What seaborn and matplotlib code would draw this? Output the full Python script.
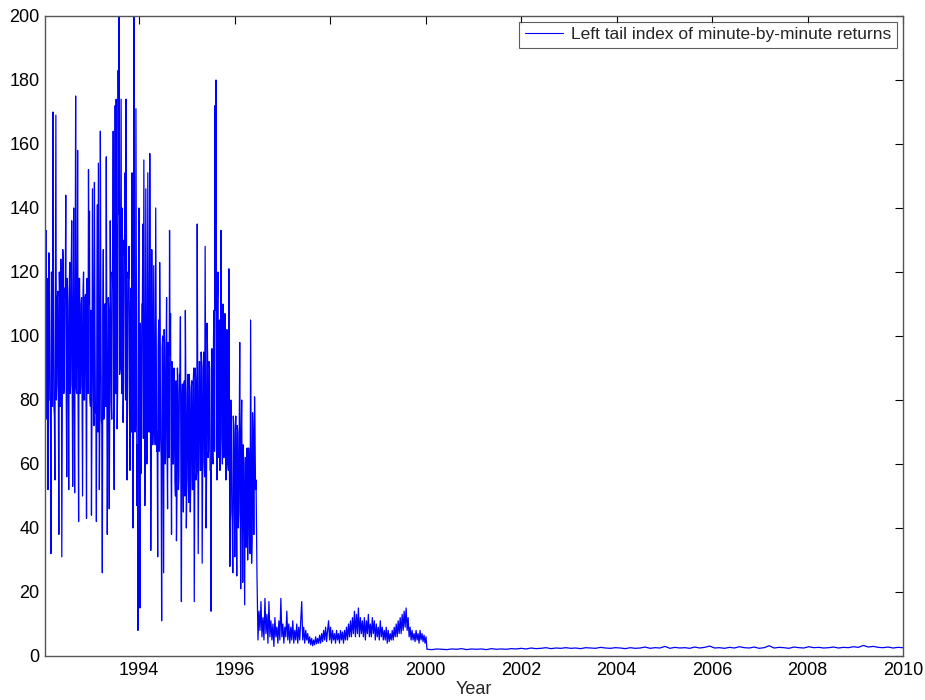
import numpy as np
import pandas as pd
import matplotlib
matplotlib.use("Agg")
import matplotlib.pyplot as plt
import seaborn as sns

# ---- data ----
# segment 1: volatile period, ~1992.03 .. 1996.45 -- spike / outer readings
early_start, early_end = 1992.03, 1996.45
early_vals = [
    100, 133, 74, 52, 126, 80, 32, 118, 170, 78,
    55, 169, 85, 114, 38, 112, 124, 31, 127, 82,
    115, 144, 56, 110, 52, 123, 85, 136, 53, 140,
    51, 175, 82, 158, 42, 118, 84, 112, 50, 120,
    80, 113, 43, 110, 152, 139, 78, 44, 146, 80,
    148, 76, 42, 141, 154, 52, 164, 74, 26, 127,
    78, 110, 156, 38, 112, 46, 136, 80, 120, 164,
    52, 172, 174, 71, 183, 205, 90, 174, 140, 73,
    130, 151, 174, 55, 120, 128, 58, 115, 151, 40,
    210, 70, 171, 47, 8, 140, 15, 57, 110, 135,
    155, 47, 146, 60, 151, 70, 157, 33, 127, 66,
    122, 72, 140, 64, 31, 105, 123, 68, 11, 100,
    26, 98, 62, 112, 46, 90, 133, 107, 38, 88,
    60, 85, 50, 36, 90, 52, 88, 106, 17, 85,
    45, 86, 108, 40, 82, 55, 88, 45, 84, 52,
    86, 17, 90, 55, 135, 32, 92, 58, 95, 29,
    90, 60, 128, 40, 104, 62, 92, 58, 14, 96,
    60, 108, 172, 180, 55, 120, 65, 58, 133, 68,
    110, 62, 107, 55, 102, 60, 121, 28, 80, 45,
    26, 72, 31, 75, 25, 70, 45, 98, 21, 80,
    23, 60, 16, 62, 40, 30, 65, 38, 105, 29,
    76, 38, 81, 52,
]
# segment 1: dense core band readings (between the spikes), same dates
early_core_vals = [
    110, 76, 118, 74, 112, 80, 120, 78, 115, 75, 118, 80, 112, 82, 120, 78,
    115, 82, 120, 85, 112, 80, 118, 84, 114, 82, 120, 86, 110, 80, 116, 84,
    112, 80, 118, 82, 110, 78, 114, 80, 112, 84, 118, 82, 110, 80,
    108, 74, 112, 72, 105, 78, 110, 70, 104, 76, 112, 72, 106, 74, 110, 78,
    102, 70, 108, 76, 112, 74, 115, 78, 118,
    82, 130, 85, 138, 88, 135, 82, 128, 86, 125, 80, 122, 84, 118, 78,
    110, 70, 112, 68, 105, 72, 108, 66, 112, 70, 104, 74, 110, 68, 106, 72,
    100, 66, 108, 70, 104, 68, 102, 72, 98, 66, 100, 70, 96, 64,
    100, 62, 96, 66, 102, 60, 95, 64, 98, 62, 94, 66, 92, 60, 90,
    55, 86, 50, 82, 56, 88, 52, 80, 58, 85, 50, 84, 54, 88, 48, 82, 56, 86,
    52, 90, 55, 85, 58, 88, 60,
    92, 58, 90, 62, 95, 56, 88, 60, 94, 64, 90, 58, 96, 62, 100,
    64, 108, 66, 110, 62, 105, 68, 104, 60, 102, 64, 98, 60, 95, 58,
    74, 45, 72, 42, 75, 48, 70, 44, 72, 40, 68, 46, 70, 42, 66,
    36, 62, 34, 65, 38, 60, 32, 66, 36, 70, 38, 68, 55,
]
# segment 2: calmer period, ~1996.47 .. 2000.01
mid_start, mid_end = 1996.47, 2000.01
mid_vals = [
    25, 5, 14, 8, 17, 6, 12, 5, 18, 7,
    13, 4, 17, 6, 11, 5, 10, 3, 12, 6,
    9, 4, 11, 5, 18, 6, 10, 4, 9, 6,
    14, 5, 10, 4, 9, 5, 11, 4, 8, 5,
    10, 4, 9, 5, 11, 17, 5, 9, 4, 8,
    5, 7, 4, 6, 3.5, 5.5, 3.2, 5, 3.5, 6,
    3.8, 5.5, 4, 6.5, 4, 7, 4.5, 8, 5, 9,
    4.5, 8, 11, 5, 9, 4, 8, 5, 7, 4,
    8, 5, 7, 4, 8, 5, 7.5, 4, 8, 5,
    9, 5, 10, 6, 11, 6, 12, 7, 14, 6,
    13, 7, 15, 6, 12, 7, 11, 6, 12, 5,
    11, 7, 13, 6, 10, 6, 12, 7, 11, 5,
    10, 6, 9, 5, 11, 6, 9, 5, 8, 5,
    9, 4, 8, 4.5, 7, 5, 8, 5, 9, 6,
    10, 6, 11, 7, 12, 7, 13, 8, 14, 9,
    15, 8, 12, 6, 9, 5, 8, 5, 7, 4.5,
    8, 5, 7, 4, 8, 5, 7, 4.5, 6.5, 4,
    6,
]
# segment 3: flat period, ~2000.03 .. 2010
late_start, late_end = 2000.03, 2010.0
late_vals = [
    2.1, 2.0, 2.2, 2.1, 2.0, 2.2, 2.1, 2.3, 2.0, 2.2,
    2.1, 2.2, 2.0, 2.3, 2.1, 2.2, 2.1, 2.3, 2.2, 2.4,
    2.2, 2.5, 2.3, 2.4, 2.6, 2.3, 2.5, 2.4, 2.6, 2.4,
    2.5, 2.3, 2.6, 2.5, 2.4, 2.7, 2.5, 2.4, 2.6, 2.5,
    2.3, 2.6, 2.4, 2.5, 2.8, 2.4, 2.6, 2.5, 3.0, 2.4,
    2.7, 2.5, 2.6, 2.4, 2.8, 2.5, 2.7, 3.1, 2.5, 2.6,
    2.4, 2.7, 2.5, 2.9, 2.6, 2.5, 2.8, 2.4, 2.6, 3.2,
    2.5, 2.7, 2.6, 2.4, 2.8, 2.6, 2.5, 2.9, 2.6, 2.7,
    2.5, 2.6, 2.8, 2.5, 2.7, 2.6, 2.9, 2.7, 3.3, 2.8,
    3.0, 2.7, 2.6, 2.8, 2.5, 2.7, 2.6,
]

x_ticks = [1994, 1996, 1998, 2000, 2002, 2004, 2006, 2008, 2010]
y_ticks = list(range(0, 201, 20))
series_label = "Left tail index of minute-by-minute returns"

# ---- build table ----
early_series = np.ravel(np.column_stack([early_vals, early_core_vals]))
years = np.concatenate([
    np.linspace(early_start, early_end, len(early_series)),
    np.linspace(mid_start, mid_end, len(mid_vals)),
    np.linspace(late_start, late_end, len(late_vals)),
])
values = np.concatenate([early_series, mid_vals, late_vals]).astype(float)
df = pd.DataFrame({"Year": years, "Index": values})

# ---- style ----
sns.set_style("white")
plt.rcParams["font.family"] = ["Liberation Sans", "DejaVu Sans"]

fig = plt.figure(figsize=(9.25, 7.0), dpi=100)
ax = fig.add_axes([45 / 925, 44 / 700, (903 - 45) / 925, (656 - 16) / 700])

sns.lineplot(data=df, x="Year", y="Index", ax=ax, color=(0, 0, 1),
             linewidth=0.9, estimator=None, sort=False, label=series_label)

ax.set_xlim(1992.03, 2010)
ax.set_ylim(0, 200)
ax.set_xticks(x_ticks)
ax.set_yticks(y_ticks)
ax.set_xlabel("Year", fontsize=13, labelpad=2)
ax.set_ylabel("")

ax.tick_params(direction="in", top=True, right=True, length=5.5, width=0.8,
               labelsize=13, colors="black", pad=4)
for sp in ax.spines.values():
    sp.set_color("#555555")
    sp.set_linewidth(1.0)
    sp.set_visible(True)

leg = ax.legend(loc="upper right", fontsize=12.5, frameon=True, fancybox=False,
                borderaxespad=0.35, handlelength=2.2, borderpad=0.3,
                handletextpad=0.5)
leg.get_frame().set_edgecolor("#333333")
leg.get_frame().set_linewidth(0.8)
for line in leg.get_lines():
    line.set_linewidth(0.8)

fig.savefig("out.png", dpi=100, facecolor="white")
